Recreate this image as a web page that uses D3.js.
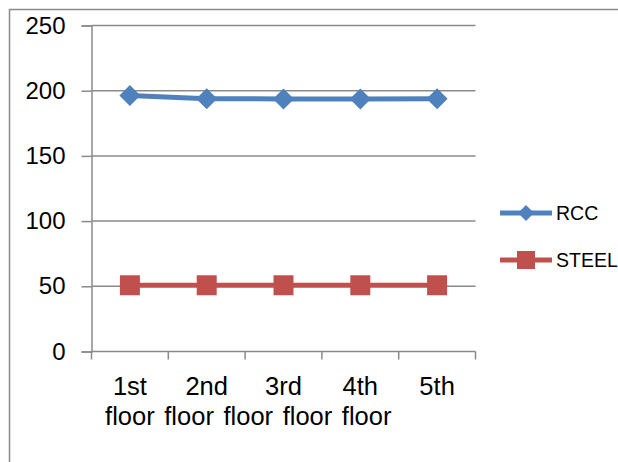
<!DOCTYPE html>
<html>
<head>
<meta charset="utf-8">
<script src="https://cdn.jsdelivr.net/npm/d3@7"></script>
<style>
  html, body { margin: 0; padding: 0; background: #fff; }
  svg { display: block; font-family: "Liberation Sans", Arial, sans-serif; }
</style>
</head>
<body>
<svg id="chart" width="618" height="462"></svg>
<script>
// Floor categories (two-line labels)
const categories = ["1st floor", "2nd floor", "3rd floor", "4th floor", "5th floor"];
const rccValues = [196.4, 193.8, 193.7, 193.7, 193.8];
const steelValues = [50.8, 50.8, 50.8, 50.8, 50.8];
const yTicks = [0, 50, 100, 150, 200, 250];
const seriesNames = ["RCC", "STEEL"];
const seriesColors = ["#4F81BD", "#C0504D"];

const svg = d3.select("#chart");
const plotLeft = 91.5, plotRight = 475.5, plotTop = 25.5, plotBottom = 351.5;
const gridColor = "#8a8a8a";

// Outer frame (left and top edges)
svg.append("path")
  .attr("d", `M9.5,462 V9.5 H618`)
  .attr("fill", "none").attr("stroke", gridColor).attr("stroke-width", 1.5);

const x = d3.scaleBand().domain(categories).range([plotLeft, plotRight]);
const y = d3.scaleLinear().domain([0, 250]).range([plotBottom, plotTop]);

// Horizontal gridlines
svg.append("g").selectAll("line").data(yTicks.filter(d => d > 0)).join("line")
  .attr("x1", plotLeft).attr("x2", plotRight)
  .attr("y1", d => y(d)).attr("y2", d => y(d))
  .attr("stroke", gridColor).attr("stroke-width", 1.5);

// Y axis
const yAxis = svg.append("g").attr("transform", `translate(${plotLeft},0)`)
  .call(d3.axisLeft(y).tickValues(yTicks).tickSize(10).tickPadding(16));
yAxis.select(".domain").attr("stroke", gridColor).attr("stroke-width", 1.5);
yAxis.selectAll(".tick line").attr("stroke", gridColor).attr("stroke-width", 1.5);
yAxis.selectAll(".tick text")
  .attr("fill", "#000").attr("font-size", 24)
  .attr("font-family", "'Liberation Sans', Arial, sans-serif");

// X axis: band boundaries with ticks
const xAxisG = svg.append("g");
xAxisG.append("line")
  .attr("x1", plotLeft).attr("x2", plotRight).attr("y1", plotBottom).attr("y2", plotBottom)
  .attr("stroke", gridColor).attr("stroke-width", 1.5);
const bounds = categories.map(c => x(c)).concat([x(categories[categories.length - 1]) + x.bandwidth()]);
xAxisG.selectAll("line.tk").data(bounds).join("line").attr("class", "tk")
  .attr("x1", d => d).attr("x2", d => d)
  .attr("y1", plotBottom).attr("y2", plotBottom + 8)
  .attr("stroke", gridColor).attr("stroke-width", 1.5);

const cx = d => x(d) + x.bandwidth() / 2;
const labelSize = 25.5;

// First line: ordinal, centred on each category
xAxisG.selectAll("text.ord").data(categories).join("text").attr("class", "ord")
  .attr("x", cx).attr("y", 395)
  .attr("text-anchor", "middle")
  .attr("font-size", labelSize).attr("fill", "#000")
  .text(d => d.split(" ")[0]);

// Second line: the remaining words flow on one line from the first category
const secondLine = xAxisG.append("text")
  .attr("y", 425).attr("font-size", labelSize).attr("fill", "#000")
  .attr("word-spacing", 2.5)
  .text(categories.map(d => d.split(" ")[1]).join(" "));
const probe = xAxisG.append("text").attr("font-size", labelSize)
  .text(categories[0].split(" ")[1]);
const firstWordW = probe.node().getComputedTextLength();
probe.remove();
secondLine.attr("x", cx(categories[0]) - firstWordW / 2);

const line = d3.line().x(d => cx(d.c)).y(d => y(d.v));

const series = [
  { name: seriesNames[0], color: seriesColors[0], values: rccValues, shape: "diamond" },
  { name: seriesNames[1], color: seriesColors[1], values: steelValues, shape: "square" }
];

const markerPath = (shape) => shape === "diamond"
  ? "M0,-10.5 L10.5,0 L0,10.5 L-10.5,0 Z"
  : "M-10,-10 H10 V10 H-10 Z";

series.forEach(s => {
  const pts = categories.map((c, i) => ({ c, v: s.values[i] }));
  svg.append("path").datum(pts)
    .attr("d", line).attr("fill", "none")
    .attr("stroke", s.color).attr("stroke-width", 5);
  svg.append("g").selectAll("path").data(pts).join("path")
    .attr("transform", d => `translate(${cx(d.c)},${y(d.v)})`)
    .attr("d", markerPath(s.shape))
    .attr("fill", s.color);
});

// Legend
const legend = svg.append("g");
const legendY = [213, 260];
series.forEach((s, i) => {
  const g = legend.append("g").attr("transform", `translate(0,${legendY[i]})`);
  g.append("line").attr("x1", 500).attr("x2", 552).attr("y1", 0).attr("y2", 0)
    .attr("stroke", s.color).attr("stroke-width", 5);
  g.append("path").attr("transform", "translate(526,0)")
    .attr("d", s.shape === "diamond" ? "M0,-8 L8,0 L0,8 L-8,0 Z" : "M-9,-9 H9 V9 H-9 Z")
    .attr("fill", s.color);
  g.append("text").attr("x", 556).attr("y", 0).attr("dy", "0.35em")
    .attr("font-size", 19.5).attr("fill", "#000").text(s.name);
});
</script>
</body>
</html>
